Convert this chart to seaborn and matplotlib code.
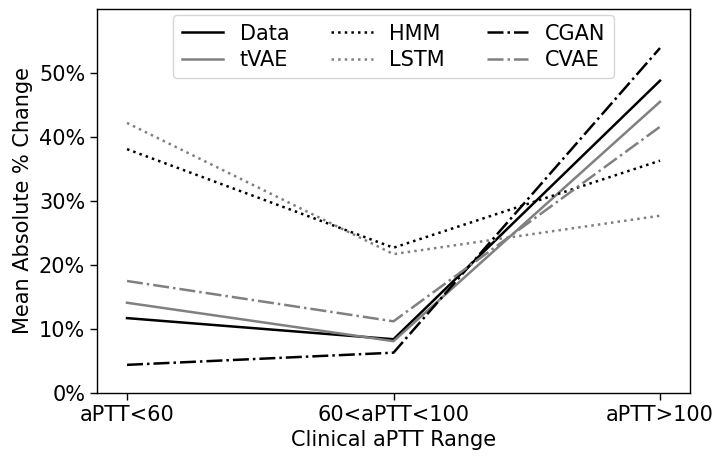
import matplotlib
matplotlib.use("Agg")
import matplotlib.pyplot as plt
import seaborn as sns
import pandas as pd
from matplotlib.ticker import PercentFormatter

categories = ["aPTT<60", "60<aPTT<100", "aPTT>100"]
data_vals = [11.7, 8.4, 48.8]
tvae_vals = [14.1, 8.1, 45.5]
hmm_vals = [38.1, 22.7, 36.3]
lstm_vals = [42.2, 21.7, 27.7]
cgan_vals = [4.4, 6.3, 53.9]
cvae_vals = [17.5, 11.2, 41.6]

series = [
    ("Data", data_vals, "black", "-"),
    ("tVAE", tvae_vals, "gray", "-"),
    ("HMM", hmm_vals, "black", ":"),
    ("LSTM", lstm_vals, "gray", ":"),
    ("CGAN", cgan_vals, "black", "-."),
    ("CVAE", cvae_vals, "gray", "-."),
]

plt.rcParams['font.family'] = ['DejaVu Sans']
FS = 15
fig = plt.figure(figsize=(7.19, 4.57), dpi=100)
ax = fig.add_axes([97/719, 1-393/457, (690-97)/719, (393-9)/457])

for name, vals, color, ls in series:
    df = pd.DataFrame({"x": list(range(len(categories))), "y": vals})
    sns.lineplot(data=df, x="x", y="y", ax=ax, color=color, linestyle=ls,
                 linewidth=1.8, label=name)

ax.set_xticks(range(len(categories)))
ax.set_xticklabels(categories, fontsize=FS)
ax.set_xlim(-0.1126, 2.1126)
ax.set_ylim(0, 60)
ax.set_yticks([0, 10, 20, 30, 40, 50])
ax.yaxis.set_major_formatter(PercentFormatter(decimals=0))
ax.tick_params(axis='both', labelsize=FS, length=5, width=1, color="black")
ax.set_xlabel("Clinical aPTT Range", fontsize=FS)
ax.set_ylabel("Mean Absolute % Change", fontsize=FS)
for s in ax.spines.values():
    s.set_linewidth(1.0)
    s.set_color("black")
ax.legend(ncol=3, loc="upper center", fontsize=FS, frameon=True,
          columnspacing=2.0, handlelength=2.0, borderaxespad=0.3,
          labelspacing=0.3)
fig.savefig("out.png", dpi=100)
